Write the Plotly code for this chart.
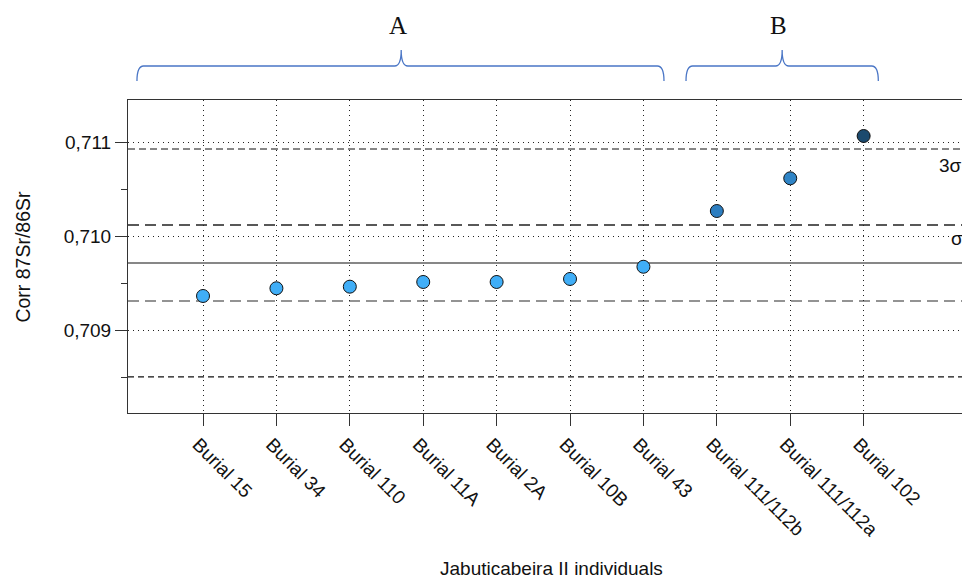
import plotly.graph_objects as go

# ---- data ----
individuals = ["Burial 15", "Burial 34", "Burial 110", "Burial 11A", "Burial 2A",
               "Burial 10B", "Burial 43", "Burial 111/112b", "Burial 111/112a", "Burial 102"]
sr_values = [0.709362, 0.709444, 0.709461, 0.709511, 0.709511,
             0.709543, 0.709673, 0.710266, 0.710614, 0.711064]
point_colors = ["#40aef7", "#40aef7", "#40aef7", "#40aef7", "#40aef7",
                "#40aef7", "#40aef7", "#2d7ec0", "#2f84c6", "#1c4a6e"]
mean_value = 0.709713
sd_value = 0.000404
y_ticks = [0.709, 0.710, 0.711]
y_minor_ticks = [0.7085, 0.7095, 0.7105]
group_labels = ["A", "B"]
group_spans = [(0.10, 3.70, 7.28), (7.58, 8.89, 10.20)]   # brace left, centre, right (in category units)

xpos = list(range(1, len(individuals) + 1))

FONT = "Liberation Sans, Arial, sans-serif"

fig = go.Figure()
fig.add_trace(go.Scatter(
    x=xpos, y=sr_values, mode="markers",
    marker=dict(size=13, color=point_colors, line=dict(color="#111111", width=1)),
    showlegend=False, hoverinfo="x+y",
))

# reference lines (mean, ±1σ, ±3σ)
ref_lines = [
    (mean_value, "#111111", "solid", 1.1),
    (mean_value + sd_value, "#222222", "11px,6px", 1.3),
    (mean_value - sd_value, "#707070", "11px,6px", 1.5),
    (mean_value + 3 * sd_value, "#606060", "7px,4px", 1.4),
    (mean_value - 3 * sd_value, "#111111", "6px,4px", 1.1),
]
for yv, col, dash, w in ref_lines:
    fig.add_shape(type="line", xref="paper", x0=0, x1=1, yref="y", y0=yv, y1=yv,
                  line=dict(color=col, dash=dash, width=w), layer="between")

# sigma labels
fig.add_annotation(xref="paper", x=0.970, yref="y", y=mean_value + 3 * sd_value - 0.00017,
                   text="3σ", showarrow=False, xanchor="left", yanchor="middle",
                   font=dict(family=FONT, size=19, color="#111111"))
fig.add_annotation(xref="paper", x=0.9846, yref="y", y=mean_value + sd_value - 0.00014,
                   text="σ", showarrow=False, xanchor="left", yanchor="middle",
                   font=dict(family=FONT, size=19, color="#111111"))

# group braces
y_end, y_mid, y_top = 1.0607, 1.1086, 1.1597
d = 0.09
for lab, (x0, xc, x1) in zip(group_labels, group_spans):
    path = (f"M {x0},{y_end} Q {x0},{y_mid} {x0+d},{y_mid} L {xc-d},{y_mid} "
            f"Q {xc},{y_mid} {xc},{y_top} Q {xc},{y_mid} {xc+d},{y_mid} "
            f"L {x1-d},{y_mid} Q {x1},{y_mid} {x1},{y_end}")
    fig.add_shape(type="path", path=path, xref="x", yref="paper",
                  line=dict(color="#4a76c6", width=1.3))
    fig.add_annotation(xref="x", x=xc - 0.05, yref="paper", y=1.2396, text=lab,
                       showarrow=False, xanchor="center", yanchor="middle",
                       font=dict(family="Liberation Serif, Times New Roman, serif", size=25, color="#111111"))

# axis titles
fig.add_annotation(xref="paper", x=0.508, yref="paper", y=-0.4984,
                   text="Jabuticabeira II individuals", showarrow=False,
                   xanchor="center", yanchor="middle",
                   font=dict(family=FONT, size=19, color="#111111"))
fig.add_annotation(xref="paper", x=-0.127, yref="paper", y=0.5,
                   text="Corr 87Sr/86Sr", showarrow=False, textangle=-90,
                   xanchor="center", yanchor="middle",
                   font=dict(family=FONT, size=19.5, color="#111111"))

fig.update_layout(
    width=962, height=581, autosize=False,
    margin=dict(l=128, r=0, t=100, b=168),
    paper_bgcolor="white", plot_bgcolor="white",
    separators=",.",
    font=dict(family=FONT, size=19, color="#111111"),
    xaxis=dict(
        range=[-0.022, 11.34], tickvals=xpos, ticktext=individuals,
        tickangle=45, ticks="outside", ticklen=12, tickcolor="#333333",
        ticklabelshift=-5,
        showline=True, linecolor="#333333", linewidth=1, mirror=True,
        showgrid=True, gridcolor="#222222", gridwidth=1, griddash="1px,4px",
        zeroline=False, tickfont=dict(family=FONT, size=19, color="#111111"),
    ),
    yaxis=dict(
        range=[0.708117, 0.711447], tickvals=y_ticks, tickformat=".3f",
        ticks="outside", ticklen=12, tickcolor="#333333",
        showline=True, linecolor="#333333", linewidth=1, mirror=False,
        showgrid=True, gridcolor="#222222", gridwidth=1, griddash="1px,4px",
        zeroline=False, tickfont=dict(family=FONT, size=19, color="#111111"),
        minor=dict(tickvals=y_minor_ticks, ticks="outside", ticklen=6,
                   tickcolor="#333333", showgrid=False),
    ),
)

fig.write_html("out.html")
